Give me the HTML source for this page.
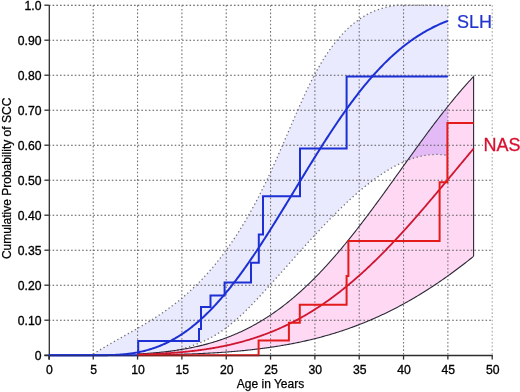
<!DOCTYPE html>
<html><head><meta charset="utf-8"><style>html,body{margin:0;padding:0;background:#fff;}svg{display:block;will-change:transform;}</style></head>
<body><svg width="520" height="392" viewBox="0 0 520 392">
<rect width="520" height="392" fill="#fff"/>
<polygon points="93.23,354.05 94.23,353.42 95.23,352.79 96.23,352.17 97.23,351.55 98.23,350.94 99.23,350.33 100.23,349.72 101.23,349.12 102.23,348.52 103.23,347.93 104.23,347.33 105.23,346.75 106.23,346.16 107.23,345.58 108.23,344.99 109.23,344.42 110.23,343.84 111.23,343.27 112.23,342.69 113.23,342.12 114.23,341.55 115.23,340.99 116.23,340.42 117.23,339.85 118.23,339.29 119.23,338.73 120.23,338.16 121.23,337.60 122.23,337.04 123.23,336.48 124.23,335.91 125.23,335.35 126.23,334.79 127.23,334.23 128.23,333.66 129.23,333.10 130.23,332.53 131.23,331.97 132.23,331.40 133.23,330.83 134.23,330.26 135.23,329.69 136.23,329.11 137.23,328.54 138.23,327.96 139.23,327.38 140.23,326.79 141.23,326.21 142.23,325.62 143.23,325.03 144.23,324.43 145.23,323.83 146.23,323.23 147.23,322.62 148.23,322.01 149.23,321.40 150.23,320.78 151.23,320.16 152.23,319.53 153.23,318.90 154.23,318.27 155.23,317.63 156.23,316.98 157.23,316.33 158.23,315.67 159.23,315.01 160.23,314.35 161.23,313.67 162.23,312.99 163.23,312.31 164.23,311.61 165.23,310.92 166.23,310.21 167.23,309.50 168.23,308.78 169.23,308.05 170.23,307.32 171.23,306.58 172.23,305.83 173.23,305.08 174.23,304.31 175.23,303.54 176.23,302.76 177.23,301.97 178.23,301.17 179.23,300.37 180.23,299.55 181.23,298.73 182.23,297.90 183.23,297.05 184.23,296.20 185.23,295.34 186.23,294.47 187.23,293.59 188.23,292.70 189.23,291.80 190.23,290.88 191.23,289.96 192.23,289.03 193.23,288.09 194.23,287.13 195.23,286.17 196.23,285.19 197.23,284.21 198.23,283.21 199.23,282.20 200.23,281.18 201.23,280.14 202.23,279.10 203.23,278.04 204.23,276.97 205.23,275.89 206.23,274.80 207.23,273.69 208.23,272.57 209.23,271.44 210.23,270.29 211.23,269.14 212.23,267.97 213.23,266.78 214.23,265.58 215.23,264.37 216.23,263.15 217.23,261.91 218.23,260.65 219.23,259.39 220.23,258.11 221.23,256.81 222.23,255.50 223.23,254.18 224.23,252.84 225.23,251.48 226.23,250.11 227.23,248.73 228.23,247.33 229.23,245.91 230.23,244.48 231.23,243.03 232.23,241.57 233.23,240.09 234.23,238.60 235.23,237.08 236.23,235.56 237.23,234.01 238.23,232.45 239.23,230.87 240.23,229.28 241.23,227.67 242.23,226.04 243.23,224.39 244.23,222.73 245.23,221.05 246.23,219.35 247.23,217.63 248.23,215.90 249.23,214.15 250.23,212.37 251.23,210.59 252.23,208.78 253.23,206.95 254.23,205.11 255.23,203.24 256.23,201.36 257.23,199.46 258.23,197.53 259.23,195.59 260.23,193.63 261.23,191.65 262.23,189.65 263.23,187.63 264.23,185.59 265.23,183.53 266.23,181.45 267.23,179.34 268.23,177.22 269.23,175.08 270.23,172.92 271.23,170.75 272.23,168.55 273.23,166.35 274.23,164.12 275.23,161.89 276.23,159.64 277.23,157.38 278.23,155.11 279.23,152.83 280.23,150.54 281.23,148.25 282.23,145.94 283.23,143.64 284.23,141.32 285.23,139.01 286.23,136.69 287.23,134.37 288.23,132.05 289.23,129.73 290.23,127.41 291.23,125.09 292.23,122.78 293.23,120.47 294.23,118.17 295.23,115.87 296.23,113.59 297.23,111.31 298.23,109.05 299.23,106.80 300.23,104.56 301.23,102.34 302.23,100.13 303.23,97.94 304.23,95.77 305.23,93.62 306.23,91.49 307.23,89.39 308.23,87.31 309.23,85.25 310.23,83.22 311.23,81.22 312.23,79.24 313.23,77.30 314.23,75.39 315.23,73.51 316.23,71.66 317.23,69.85 318.23,68.07 319.23,66.32 320.23,64.60 321.23,62.91 322.23,61.26 323.23,59.63 324.23,58.04 325.23,56.47 326.23,54.94 327.23,53.43 328.23,51.96 329.23,50.51 330.23,49.10 331.23,47.71 332.23,46.35 333.23,45.02 334.23,43.72 335.23,42.44 336.23,41.19 337.23,39.97 338.23,38.77 339.23,37.60 340.23,36.46 341.23,35.34 342.23,34.25 343.23,33.18 344.23,32.14 345.23,31.13 346.23,30.13 347.23,29.17 348.23,28.22 349.23,27.30 350.23,26.40 351.23,25.53 352.23,24.67 353.23,23.84 354.23,23.04 355.23,22.25 356.23,21.49 357.23,20.74 358.23,20.02 359.23,19.32 360.23,18.64 361.23,17.98 362.23,17.34 363.23,16.72 364.23,16.12 365.23,15.53 366.23,14.97 367.23,14.42 368.23,13.90 369.23,13.39 370.23,12.90 371.23,12.42 372.23,11.96 373.23,11.52 374.23,11.10 375.23,10.69 376.23,10.30 377.23,9.92 378.23,9.56 379.23,9.22 380.23,8.89 381.23,8.57 382.23,8.27 383.23,7.98 384.23,7.70 385.23,7.44 386.23,7.20 387.23,6.96 388.23,6.74 389.23,6.53 390.23,6.33 391.23,6.14 392.23,5.97 393.23,5.80 394.23,5.65 395.23,5.51 396.23,5.38 397.23,5.25 398.23,5.20 399.23,5.20 400.23,5.20 401.23,5.20 402.23,5.20 403.23,5.20 404.23,5.20 405.23,5.20 406.23,5.20 407.23,5.20 408.23,5.20 409.23,5.20 410.23,5.20 411.23,5.20 412.23,5.20 413.23,5.20 414.23,5.20 415.23,5.20 416.23,5.20 417.23,5.20 418.23,5.20 419.23,5.20 420.23,5.20 421.23,5.20 422.23,5.20 423.23,5.20 424.23,5.20 425.23,5.20 426.23,5.20 427.23,5.20 428.23,5.20 429.23,5.20 430.23,5.20 431.23,5.20 432.23,5.20 433.23,5.20 434.23,5.21 435.23,5.26 436.23,5.30 437.23,5.35 438.23,5.40 439.23,5.44 440.23,5.49 441.23,5.53 442.23,5.56 443.23,5.60 444.23,5.63 445.23,5.66 446.23,5.68 447.23,5.70 447.87,5.71 447.87,155.45 447.00,155.30 446.00,155.15 445.00,155.01 444.00,154.89 443.00,154.78 442.00,154.69 441.00,154.61 440.00,154.55 439.00,154.51 438.00,154.48 437.00,154.46 436.00,154.46 435.00,154.48 434.00,154.50 433.00,154.55 432.00,154.61 431.00,154.68 430.00,154.77 429.00,154.87 428.00,154.99 427.00,155.12 426.00,155.26 425.00,155.42 424.00,155.59 423.00,155.77 422.00,155.97 421.00,156.19 420.00,156.41 419.00,156.65 418.00,156.90 417.00,157.17 416.00,157.45 415.00,157.74 414.00,158.04 413.00,158.36 412.00,158.69 411.00,159.03 410.00,159.38 409.00,159.75 408.00,160.13 407.00,160.52 406.00,160.92 405.00,161.33 404.00,161.76 403.00,162.20 402.00,162.65 401.00,163.11 400.00,163.58 399.00,164.06 398.00,164.56 397.00,165.06 396.00,165.58 395.00,166.11 394.00,166.65 393.00,167.20 392.00,167.76 391.00,168.33 390.00,168.91 389.00,169.50 388.00,170.10 387.00,170.71 386.00,171.33 385.00,171.96 384.00,172.60 383.00,173.25 382.00,173.92 381.00,174.58 380.00,175.26 379.00,175.95 378.00,176.65 377.00,177.36 376.00,178.07 375.00,178.80 374.00,179.53 373.00,180.28 372.00,181.03 371.00,181.79 370.00,182.55 369.00,183.33 368.00,184.12 367.00,184.91 366.00,185.71 365.00,186.52 364.00,187.34 363.00,188.16 362.00,188.99 361.00,189.83 360.00,190.68 359.00,191.53 358.00,192.40 357.00,193.26 356.00,194.14 355.00,195.02 354.00,195.91 353.00,196.81 352.00,197.71 351.00,198.62 350.00,199.54 349.00,200.46 348.00,201.39 347.00,202.32 346.00,203.27 345.00,204.21 344.00,205.17 343.00,206.12 342.00,207.09 341.00,208.06 340.00,209.03 339.00,210.01 338.00,211.00 337.00,211.99 336.00,212.99 335.00,213.99 334.00,214.99 333.00,216.01 332.00,217.02 331.00,218.04 330.00,219.07 329.00,220.10 328.00,221.13 327.00,222.17 326.00,223.21 325.00,224.25 324.00,225.30 323.00,226.36 322.00,227.41 321.00,228.47 320.00,229.54 319.00,230.61 318.00,231.68 317.00,232.75 316.00,233.83 315.00,234.91 314.00,235.99 313.00,237.08 312.00,238.17 311.00,239.26 310.00,240.35 309.00,241.45 308.00,242.54 307.00,243.65 306.00,244.75 305.00,245.85 304.00,246.96 303.00,248.07 302.00,249.18 301.00,250.29 300.00,251.40 299.00,252.52 298.00,253.64 297.00,254.75 296.00,255.87 295.00,256.99 294.00,258.11 293.00,259.23 292.00,260.36 291.00,261.48 290.00,262.60 289.00,263.72 288.00,264.85 287.00,265.97 286.00,267.10 285.00,268.22 284.00,269.35 283.00,270.47 282.00,271.60 281.00,272.72 280.00,273.84 279.00,274.97 278.00,276.09 277.00,277.21 276.00,278.33 275.00,279.45 274.00,280.57 273.00,281.69 272.00,282.80 271.00,283.92 270.00,285.03 269.00,286.14 268.00,287.25 267.00,288.36 266.00,289.46 265.00,290.57 264.00,291.66 263.00,292.76 262.00,293.85 261.00,294.94 260.00,296.02 259.00,297.10 258.00,298.17 257.00,299.24 256.00,300.30 255.00,301.36 254.00,302.41 253.00,303.45 252.00,304.49 251.00,305.52 250.00,306.54 249.00,307.56 248.00,308.56 247.00,309.56 246.00,310.55 245.00,311.53 244.00,312.50 243.00,313.46 242.00,314.41 241.00,315.35 240.00,316.28 239.00,317.20 238.00,318.11 237.00,319.01 236.00,319.89 235.00,320.76 234.00,321.62 233.00,322.47 232.00,323.30 231.00,324.13 230.00,324.93 229.00,325.73 228.00,326.51 227.00,327.27 226.00,328.02 225.00,328.75 224.00,329.48 223.00,330.18 222.00,330.87 221.00,331.55 220.00,332.21 219.00,332.87 218.00,333.50 217.00,334.12 216.00,334.73 215.00,335.33 214.00,335.91 213.00,336.48 212.00,337.04 211.00,337.59 210.00,338.12 209.00,338.64 208.00,339.15 207.00,339.64 206.00,340.13 205.00,340.60 204.00,341.06 203.00,341.51 202.00,341.95 201.00,342.38 200.00,342.79 199.00,343.20 198.00,343.60 197.00,343.99 196.00,344.36 195.00,344.73 194.00,345.09 193.00,345.44 192.00,345.78 191.00,346.11 190.00,346.44 189.00,346.76 188.00,347.07 187.00,347.37 186.00,347.66 185.00,347.95 184.00,348.23 183.00,348.51 182.00,348.78 181.00,349.04 180.00,349.30 179.00,349.55 178.00,349.80 177.00,350.05 176.00,350.28 175.00,350.52 174.00,350.75 173.00,350.97 172.00,351.20 171.00,351.42 170.00,351.63 169.00,351.84 168.00,352.06 167.00,352.26 166.00,352.47 165.00,352.67 164.00,352.88 163.00,353.08 162.00,353.28 161.00,353.48 160.00,353.68 159.00,353.88 158.00,354.08 157.00,354.27 156.00,354.47 155.00,354.67 154.00,354.87 153.00,355.08 152.00,355.20 151.00,355.20 150.00,355.20 93.23,355.20" fill="#eaeaff"/>
<defs><clipPath id="pk"><polygon points="137.56,353.98 138.56,353.92 139.56,353.87 140.56,353.81 141.56,353.75 142.56,353.69 143.56,353.63 144.56,353.57 145.56,353.50 146.56,353.43 147.56,353.36 148.56,353.29 149.56,353.22 150.56,353.14 151.56,353.06 152.56,352.98 153.56,352.90 154.56,352.81 155.56,352.72 156.56,352.63 157.56,352.54 158.56,352.45 159.56,352.35 160.56,352.25 161.56,352.15 162.56,352.04 163.56,351.93 164.56,351.82 165.56,351.71 166.56,351.59 167.56,351.48 168.56,351.35 169.56,351.23 170.56,351.10 171.56,350.97 172.56,350.84 173.56,350.70 174.56,350.56 175.56,350.42 176.56,350.27 177.56,350.12 178.56,349.97 179.56,349.81 180.56,349.65 181.56,349.49 182.56,349.32 183.56,349.15 184.56,348.97 185.56,348.80 186.56,348.61 187.56,348.43 188.56,348.24 189.56,348.05 190.56,347.85 191.56,347.65 192.56,347.44 193.56,347.23 194.56,347.02 195.56,346.80 196.56,346.58 197.56,346.35 198.56,346.12 199.56,345.89 200.56,345.65 201.56,345.40 202.56,345.16 203.56,344.90 204.56,344.65 205.56,344.38 206.56,344.12 207.56,343.85 208.56,343.57 209.56,343.29 210.56,343.00 211.56,342.71 212.56,342.41 213.56,342.11 214.56,341.81 215.56,341.49 216.56,341.18 217.56,340.86 218.56,340.53 219.56,340.19 220.56,339.86 221.56,339.51 222.56,339.16 223.56,338.81 224.56,338.45 225.56,338.08 226.56,337.71 227.56,337.33 228.56,336.95 229.56,336.56 230.56,336.16 231.56,335.76 232.56,335.36 233.56,334.94 234.56,334.52 235.56,334.10 236.56,333.67 237.56,333.23 238.56,332.78 239.56,332.33 240.56,331.88 241.56,331.41 242.56,330.94 243.56,330.47 244.56,329.99 245.56,329.50 246.56,329.00 247.56,328.50 248.56,327.99 249.56,327.47 250.56,326.95 251.56,326.42 252.56,325.88 253.56,325.34 254.56,324.79 255.56,324.23 256.56,323.67 257.56,323.10 258.56,322.52 259.56,321.93 260.56,321.34 261.56,320.74 262.56,320.13 263.56,319.52 264.56,318.90 265.56,318.27 266.56,317.63 267.56,316.99 268.56,316.34 269.56,315.68 270.56,315.02 271.56,314.34 272.56,313.66 273.56,312.97 274.56,312.28 275.56,311.57 276.56,310.86 277.56,310.15 278.56,309.42 279.56,308.69 280.56,307.94 281.56,307.20 282.56,306.44 283.56,305.68 284.56,304.90 285.56,304.12 286.56,303.34 287.56,302.54 288.56,301.74 289.56,300.93 290.56,300.11 291.56,299.28 292.56,298.45 293.56,297.61 294.56,296.76 295.56,295.90 296.56,295.04 297.56,294.16 298.56,293.28 299.56,292.40 300.56,291.50 301.56,290.60 302.56,289.68 303.56,288.76 304.56,287.84 305.56,286.90 306.56,285.96 307.56,285.01 308.56,284.05 309.56,283.09 310.56,282.12 311.56,281.14 312.56,280.15 313.56,279.15 314.56,278.15 315.56,277.14 316.56,276.12 317.56,275.09 318.56,274.06 319.56,273.02 320.56,271.97 321.56,270.92 322.56,269.86 323.56,268.79 324.56,267.71 325.56,266.63 326.56,265.54 327.56,264.44 328.56,263.33 329.56,262.22 330.56,261.10 331.56,259.98 332.56,258.84 333.56,257.70 334.56,256.56 335.56,255.40 336.56,254.25 337.56,253.08 338.56,251.91 339.56,250.73 340.56,249.54 341.56,248.35 342.56,247.15 343.56,245.95 344.56,244.74 345.56,243.52 346.56,242.30 347.56,241.07 348.56,239.84 349.56,238.60 350.56,237.36 351.56,236.11 352.56,234.85 353.56,233.59 354.56,232.32 355.56,231.05 356.56,229.77 357.56,228.49 358.56,227.20 359.56,225.91 360.56,224.61 361.56,223.31 362.56,222.01 363.56,220.70 364.56,219.38 365.56,218.06 366.56,216.74 367.56,215.41 368.56,214.08 369.56,212.74 370.56,211.41 371.56,210.06 372.56,208.72 373.56,207.37 374.56,206.01 375.56,204.66 376.56,203.30 377.56,201.94 378.56,200.57 379.56,199.20 380.56,197.83 381.56,196.46 382.56,195.08 383.56,193.71 384.56,192.33 385.56,190.94 386.56,189.56 387.56,188.17 388.56,186.79 389.56,185.40 390.56,184.01 391.56,182.62 392.56,181.22 393.56,179.83 394.56,178.44 395.56,177.04 396.56,175.64 397.56,174.25 398.56,172.85 399.56,171.45 400.56,170.06 401.56,168.66 402.56,167.26 403.56,165.87 404.56,164.47 405.56,163.08 406.56,161.68 407.56,160.29 408.56,158.89 409.56,157.50 410.56,156.11 411.56,154.72 412.56,153.33 413.56,151.95 414.56,150.56 415.56,149.18 416.56,147.80 417.56,146.42 418.56,145.04 419.56,143.67 420.56,142.30 421.56,140.93 422.56,139.57 423.56,138.20 424.56,136.85 425.56,135.49 426.56,134.14 427.56,132.79 428.56,131.44 429.56,130.10 430.56,128.76 431.56,127.43 432.56,126.10 433.56,124.77 434.56,123.45 435.56,122.14 436.56,120.82 437.56,119.52 438.56,118.22 439.56,116.92 440.56,115.63 441.56,114.34 442.56,113.06 443.56,111.78 444.56,110.51 445.56,109.25 446.56,107.99 447.56,106.74 448.56,105.49 449.56,104.25 450.56,103.02 451.56,101.79 452.56,100.57 453.56,99.35 454.56,98.14 455.56,96.94 456.56,95.75 457.56,94.56 458.56,93.38 459.56,92.21 460.56,91.04 461.56,89.88 462.56,88.73 463.56,87.59 464.56,86.45 465.56,85.32 466.56,84.20 467.56,83.09 468.56,81.98 469.56,80.88 470.56,79.80 471.56,78.71 472.56,77.64 473.56,76.58 473.60,76.53 473.60,256.32 473.60,256.32 473.56,256.35 472.56,257.16 471.56,257.96 470.56,258.75 469.56,259.55 468.56,260.34 467.56,261.12 466.56,261.91 465.56,262.69 464.56,263.46 463.56,264.24 462.56,265.00 461.56,265.77 460.56,266.53 459.56,267.29 458.56,268.05 457.56,268.80 456.56,269.55 455.56,270.29 454.56,271.03 453.56,271.77 452.56,272.51 451.56,273.24 450.56,273.96 449.56,274.69 448.56,275.41 447.56,276.12 446.56,276.84 445.56,277.54 444.56,278.25 443.56,278.95 442.56,279.65 441.56,280.34 440.56,281.03 439.56,281.72 438.56,282.40 437.56,283.08 436.56,283.76 435.56,284.43 434.56,285.10 433.56,285.76 432.56,286.42 431.56,287.08 430.56,287.73 429.56,288.38 428.56,289.02 427.56,289.67 426.56,290.30 425.56,290.94 424.56,291.57 423.56,292.19 422.56,292.82 421.56,293.44 420.56,294.05 419.56,294.66 418.56,295.27 417.56,295.87 416.56,296.47 415.56,297.07 414.56,297.66 413.56,298.25 412.56,298.83 411.56,299.41 410.56,299.99 409.56,300.56 408.56,301.13 407.56,301.70 406.56,302.26 405.56,302.82 404.56,303.37 403.56,303.92 402.56,304.47 401.56,305.01 400.56,305.55 399.56,306.08 398.56,306.62 397.56,307.14 396.56,307.67 395.56,308.19 394.56,308.70 393.56,309.22 392.56,309.73 391.56,310.23 390.56,310.73 389.56,311.23 388.56,311.72 387.56,312.21 386.56,312.70 385.56,313.18 384.56,313.66 383.56,314.14 382.56,314.61 381.56,315.08 380.56,315.54 379.56,316.01 378.56,316.46 377.56,316.92 376.56,317.37 375.56,317.81 374.56,318.26 373.56,318.70 372.56,319.13 371.56,319.56 370.56,319.99 369.56,320.42 368.56,320.84 367.56,321.26 366.56,321.67 365.56,322.08 364.56,322.49 363.56,322.90 362.56,323.30 361.56,323.69 360.56,324.09 359.56,324.48 358.56,324.87 357.56,325.25 356.56,325.63 355.56,326.01 354.56,326.38 353.56,326.75 352.56,327.12 351.56,327.48 350.56,327.84 349.56,328.20 348.56,328.55 347.56,328.90 346.56,329.25 345.56,329.59 344.56,329.93 343.56,330.27 342.56,330.61 341.56,330.94 340.56,331.26 339.56,331.59 338.56,331.91 337.56,332.23 336.56,332.54 335.56,332.86 334.56,333.17 333.56,333.47 332.56,333.78 331.56,334.08 330.56,334.37 329.56,334.67 328.56,334.96 327.56,335.25 326.56,335.53 325.56,335.81 324.56,336.09 323.56,336.37 322.56,336.64 321.56,336.91 320.56,337.18 319.56,337.45 318.56,337.71 317.56,337.97 316.56,338.23 315.56,338.48 314.56,338.73 313.56,338.98 312.56,339.23 311.56,339.47 310.56,339.71 309.56,339.95 308.56,340.18 307.56,340.41 306.56,340.64 305.56,340.87 304.56,341.10 303.56,341.32 302.56,341.54 301.56,341.75 300.56,341.97 299.56,342.18 298.56,342.39 297.56,342.60 296.56,342.80 295.56,343.00 294.56,343.20 293.56,343.40 292.56,343.59 291.56,343.79 290.56,343.98 289.56,344.16 288.56,344.35 287.56,344.53 286.56,344.71 285.56,344.89 284.56,345.07 283.56,345.24 282.56,345.41 281.56,345.58 280.56,345.75 279.56,345.92 278.56,346.08 277.56,346.24 276.56,346.40 275.56,346.56 274.56,346.71 273.56,346.87 272.56,347.02 271.56,347.16 270.56,347.31 269.56,347.46 268.56,347.60 267.56,347.74 266.56,347.88 265.56,348.02 264.56,348.15 263.56,348.28 262.56,348.42 261.56,348.54 260.56,348.67 259.56,348.80 258.56,348.92 257.56,349.04 256.56,349.16 255.56,349.28 254.56,349.40 253.56,349.52 252.56,349.63 251.56,349.74 250.56,349.85 249.56,349.96 248.56,350.07 247.56,350.17 246.56,350.27 245.56,350.38 244.56,350.48 243.56,350.58 242.56,350.67 241.56,350.77 240.56,350.86 239.56,350.96 238.56,351.05 237.56,351.14 236.56,351.22 235.56,351.31 234.56,351.40 233.56,351.48 232.56,351.56 231.56,351.65 230.56,351.73 229.56,351.80 228.56,351.88 227.56,351.96 226.56,352.03 225.56,352.10 224.56,352.18 223.56,352.25 222.56,352.32 221.56,352.39 220.56,352.45 219.56,352.52 218.56,352.58 217.56,352.65 216.56,352.71 215.56,352.77 214.56,352.83 213.56,352.89 212.56,352.95 211.56,353.00 210.56,353.06 209.56,353.11 208.56,353.17 207.56,353.22 206.56,353.27 205.56,353.32 204.56,353.37 203.56,353.42 202.56,353.47 201.56,353.51 200.56,353.56 199.56,353.60 198.56,353.65 197.56,353.69 196.56,353.73 195.56,353.77 194.56,353.81 193.56,353.85 192.56,353.89 191.56,353.93 190.56,353.97 189.56,354.00 188.56,354.04 187.56,354.07 186.56,354.11 185.56,354.14 184.56,354.17 183.56,354.20 182.56,354.23 181.56,354.26 180.56,354.29 179.56,354.32 178.56,354.35 177.56,354.38 176.56,354.40 175.56,354.43 174.56,354.45 173.56,354.48 172.56,354.50 171.56,354.53 170.56,354.55 169.56,354.57 168.56,354.59 167.56,354.61 166.56,354.63 165.56,354.65 164.56,354.67 163.56,354.69 162.56,354.71 161.56,354.73 160.56,354.75 159.56,354.76 158.56,354.78 157.56,354.80 156.56,354.81 155.56,354.83 154.56,354.84 153.56,354.86 152.56,354.87 151.56,354.88 150.56,354.90 149.56,354.91 148.56,354.92 147.56,354.93 146.56,354.94 145.56,354.95 144.56,354.96 143.56,354.97 142.56,354.98 141.56,354.99 140.56,355.00 139.56,355.01 138.56,355.02 137.56,355.03"/></clipPath></defs>
<polygon points="137.56,353.98 138.56,353.92 139.56,353.87 140.56,353.81 141.56,353.75 142.56,353.69 143.56,353.63 144.56,353.57 145.56,353.50 146.56,353.43 147.56,353.36 148.56,353.29 149.56,353.22 150.56,353.14 151.56,353.06 152.56,352.98 153.56,352.90 154.56,352.81 155.56,352.72 156.56,352.63 157.56,352.54 158.56,352.45 159.56,352.35 160.56,352.25 161.56,352.15 162.56,352.04 163.56,351.93 164.56,351.82 165.56,351.71 166.56,351.59 167.56,351.48 168.56,351.35 169.56,351.23 170.56,351.10 171.56,350.97 172.56,350.84 173.56,350.70 174.56,350.56 175.56,350.42 176.56,350.27 177.56,350.12 178.56,349.97 179.56,349.81 180.56,349.65 181.56,349.49 182.56,349.32 183.56,349.15 184.56,348.97 185.56,348.80 186.56,348.61 187.56,348.43 188.56,348.24 189.56,348.05 190.56,347.85 191.56,347.65 192.56,347.44 193.56,347.23 194.56,347.02 195.56,346.80 196.56,346.58 197.56,346.35 198.56,346.12 199.56,345.89 200.56,345.65 201.56,345.40 202.56,345.16 203.56,344.90 204.56,344.65 205.56,344.38 206.56,344.12 207.56,343.85 208.56,343.57 209.56,343.29 210.56,343.00 211.56,342.71 212.56,342.41 213.56,342.11 214.56,341.81 215.56,341.49 216.56,341.18 217.56,340.86 218.56,340.53 219.56,340.19 220.56,339.86 221.56,339.51 222.56,339.16 223.56,338.81 224.56,338.45 225.56,338.08 226.56,337.71 227.56,337.33 228.56,336.95 229.56,336.56 230.56,336.16 231.56,335.76 232.56,335.36 233.56,334.94 234.56,334.52 235.56,334.10 236.56,333.67 237.56,333.23 238.56,332.78 239.56,332.33 240.56,331.88 241.56,331.41 242.56,330.94 243.56,330.47 244.56,329.99 245.56,329.50 246.56,329.00 247.56,328.50 248.56,327.99 249.56,327.47 250.56,326.95 251.56,326.42 252.56,325.88 253.56,325.34 254.56,324.79 255.56,324.23 256.56,323.67 257.56,323.10 258.56,322.52 259.56,321.93 260.56,321.34 261.56,320.74 262.56,320.13 263.56,319.52 264.56,318.90 265.56,318.27 266.56,317.63 267.56,316.99 268.56,316.34 269.56,315.68 270.56,315.02 271.56,314.34 272.56,313.66 273.56,312.97 274.56,312.28 275.56,311.57 276.56,310.86 277.56,310.15 278.56,309.42 279.56,308.69 280.56,307.94 281.56,307.20 282.56,306.44 283.56,305.68 284.56,304.90 285.56,304.12 286.56,303.34 287.56,302.54 288.56,301.74 289.56,300.93 290.56,300.11 291.56,299.28 292.56,298.45 293.56,297.61 294.56,296.76 295.56,295.90 296.56,295.04 297.56,294.16 298.56,293.28 299.56,292.40 300.56,291.50 301.56,290.60 302.56,289.68 303.56,288.76 304.56,287.84 305.56,286.90 306.56,285.96 307.56,285.01 308.56,284.05 309.56,283.09 310.56,282.12 311.56,281.14 312.56,280.15 313.56,279.15 314.56,278.15 315.56,277.14 316.56,276.12 317.56,275.09 318.56,274.06 319.56,273.02 320.56,271.97 321.56,270.92 322.56,269.86 323.56,268.79 324.56,267.71 325.56,266.63 326.56,265.54 327.56,264.44 328.56,263.33 329.56,262.22 330.56,261.10 331.56,259.98 332.56,258.84 333.56,257.70 334.56,256.56 335.56,255.40 336.56,254.25 337.56,253.08 338.56,251.91 339.56,250.73 340.56,249.54 341.56,248.35 342.56,247.15 343.56,245.95 344.56,244.74 345.56,243.52 346.56,242.30 347.56,241.07 348.56,239.84 349.56,238.60 350.56,237.36 351.56,236.11 352.56,234.85 353.56,233.59 354.56,232.32 355.56,231.05 356.56,229.77 357.56,228.49 358.56,227.20 359.56,225.91 360.56,224.61 361.56,223.31 362.56,222.01 363.56,220.70 364.56,219.38 365.56,218.06 366.56,216.74 367.56,215.41 368.56,214.08 369.56,212.74 370.56,211.41 371.56,210.06 372.56,208.72 373.56,207.37 374.56,206.01 375.56,204.66 376.56,203.30 377.56,201.94 378.56,200.57 379.56,199.20 380.56,197.83 381.56,196.46 382.56,195.08 383.56,193.71 384.56,192.33 385.56,190.94 386.56,189.56 387.56,188.17 388.56,186.79 389.56,185.40 390.56,184.01 391.56,182.62 392.56,181.22 393.56,179.83 394.56,178.44 395.56,177.04 396.56,175.64 397.56,174.25 398.56,172.85 399.56,171.45 400.56,170.06 401.56,168.66 402.56,167.26 403.56,165.87 404.56,164.47 405.56,163.08 406.56,161.68 407.56,160.29 408.56,158.89 409.56,157.50 410.56,156.11 411.56,154.72 412.56,153.33 413.56,151.95 414.56,150.56 415.56,149.18 416.56,147.80 417.56,146.42 418.56,145.04 419.56,143.67 420.56,142.30 421.56,140.93 422.56,139.57 423.56,138.20 424.56,136.85 425.56,135.49 426.56,134.14 427.56,132.79 428.56,131.44 429.56,130.10 430.56,128.76 431.56,127.43 432.56,126.10 433.56,124.77 434.56,123.45 435.56,122.14 436.56,120.82 437.56,119.52 438.56,118.22 439.56,116.92 440.56,115.63 441.56,114.34 442.56,113.06 443.56,111.78 444.56,110.51 445.56,109.25 446.56,107.99 447.56,106.74 448.56,105.49 449.56,104.25 450.56,103.02 451.56,101.79 452.56,100.57 453.56,99.35 454.56,98.14 455.56,96.94 456.56,95.75 457.56,94.56 458.56,93.38 459.56,92.21 460.56,91.04 461.56,89.88 462.56,88.73 463.56,87.59 464.56,86.45 465.56,85.32 466.56,84.20 467.56,83.09 468.56,81.98 469.56,80.88 470.56,79.80 471.56,78.71 472.56,77.64 473.56,76.58 473.60,76.53 473.60,256.32 473.60,256.32 473.56,256.35 472.56,257.16 471.56,257.96 470.56,258.75 469.56,259.55 468.56,260.34 467.56,261.12 466.56,261.91 465.56,262.69 464.56,263.46 463.56,264.24 462.56,265.00 461.56,265.77 460.56,266.53 459.56,267.29 458.56,268.05 457.56,268.80 456.56,269.55 455.56,270.29 454.56,271.03 453.56,271.77 452.56,272.51 451.56,273.24 450.56,273.96 449.56,274.69 448.56,275.41 447.56,276.12 446.56,276.84 445.56,277.54 444.56,278.25 443.56,278.95 442.56,279.65 441.56,280.34 440.56,281.03 439.56,281.72 438.56,282.40 437.56,283.08 436.56,283.76 435.56,284.43 434.56,285.10 433.56,285.76 432.56,286.42 431.56,287.08 430.56,287.73 429.56,288.38 428.56,289.02 427.56,289.67 426.56,290.30 425.56,290.94 424.56,291.57 423.56,292.19 422.56,292.82 421.56,293.44 420.56,294.05 419.56,294.66 418.56,295.27 417.56,295.87 416.56,296.47 415.56,297.07 414.56,297.66 413.56,298.25 412.56,298.83 411.56,299.41 410.56,299.99 409.56,300.56 408.56,301.13 407.56,301.70 406.56,302.26 405.56,302.82 404.56,303.37 403.56,303.92 402.56,304.47 401.56,305.01 400.56,305.55 399.56,306.08 398.56,306.62 397.56,307.14 396.56,307.67 395.56,308.19 394.56,308.70 393.56,309.22 392.56,309.73 391.56,310.23 390.56,310.73 389.56,311.23 388.56,311.72 387.56,312.21 386.56,312.70 385.56,313.18 384.56,313.66 383.56,314.14 382.56,314.61 381.56,315.08 380.56,315.54 379.56,316.01 378.56,316.46 377.56,316.92 376.56,317.37 375.56,317.81 374.56,318.26 373.56,318.70 372.56,319.13 371.56,319.56 370.56,319.99 369.56,320.42 368.56,320.84 367.56,321.26 366.56,321.67 365.56,322.08 364.56,322.49 363.56,322.90 362.56,323.30 361.56,323.69 360.56,324.09 359.56,324.48 358.56,324.87 357.56,325.25 356.56,325.63 355.56,326.01 354.56,326.38 353.56,326.75 352.56,327.12 351.56,327.48 350.56,327.84 349.56,328.20 348.56,328.55 347.56,328.90 346.56,329.25 345.56,329.59 344.56,329.93 343.56,330.27 342.56,330.61 341.56,330.94 340.56,331.26 339.56,331.59 338.56,331.91 337.56,332.23 336.56,332.54 335.56,332.86 334.56,333.17 333.56,333.47 332.56,333.78 331.56,334.08 330.56,334.37 329.56,334.67 328.56,334.96 327.56,335.25 326.56,335.53 325.56,335.81 324.56,336.09 323.56,336.37 322.56,336.64 321.56,336.91 320.56,337.18 319.56,337.45 318.56,337.71 317.56,337.97 316.56,338.23 315.56,338.48 314.56,338.73 313.56,338.98 312.56,339.23 311.56,339.47 310.56,339.71 309.56,339.95 308.56,340.18 307.56,340.41 306.56,340.64 305.56,340.87 304.56,341.10 303.56,341.32 302.56,341.54 301.56,341.75 300.56,341.97 299.56,342.18 298.56,342.39 297.56,342.60 296.56,342.80 295.56,343.00 294.56,343.20 293.56,343.40 292.56,343.59 291.56,343.79 290.56,343.98 289.56,344.16 288.56,344.35 287.56,344.53 286.56,344.71 285.56,344.89 284.56,345.07 283.56,345.24 282.56,345.41 281.56,345.58 280.56,345.75 279.56,345.92 278.56,346.08 277.56,346.24 276.56,346.40 275.56,346.56 274.56,346.71 273.56,346.87 272.56,347.02 271.56,347.16 270.56,347.31 269.56,347.46 268.56,347.60 267.56,347.74 266.56,347.88 265.56,348.02 264.56,348.15 263.56,348.28 262.56,348.42 261.56,348.54 260.56,348.67 259.56,348.80 258.56,348.92 257.56,349.04 256.56,349.16 255.56,349.28 254.56,349.40 253.56,349.52 252.56,349.63 251.56,349.74 250.56,349.85 249.56,349.96 248.56,350.07 247.56,350.17 246.56,350.27 245.56,350.38 244.56,350.48 243.56,350.58 242.56,350.67 241.56,350.77 240.56,350.86 239.56,350.96 238.56,351.05 237.56,351.14 236.56,351.22 235.56,351.31 234.56,351.40 233.56,351.48 232.56,351.56 231.56,351.65 230.56,351.73 229.56,351.80 228.56,351.88 227.56,351.96 226.56,352.03 225.56,352.10 224.56,352.18 223.56,352.25 222.56,352.32 221.56,352.39 220.56,352.45 219.56,352.52 218.56,352.58 217.56,352.65 216.56,352.71 215.56,352.77 214.56,352.83 213.56,352.89 212.56,352.95 211.56,353.00 210.56,353.06 209.56,353.11 208.56,353.17 207.56,353.22 206.56,353.27 205.56,353.32 204.56,353.37 203.56,353.42 202.56,353.47 201.56,353.51 200.56,353.56 199.56,353.60 198.56,353.65 197.56,353.69 196.56,353.73 195.56,353.77 194.56,353.81 193.56,353.85 192.56,353.89 191.56,353.93 190.56,353.97 189.56,354.00 188.56,354.04 187.56,354.07 186.56,354.11 185.56,354.14 184.56,354.17 183.56,354.20 182.56,354.23 181.56,354.26 180.56,354.29 179.56,354.32 178.56,354.35 177.56,354.38 176.56,354.40 175.56,354.43 174.56,354.45 173.56,354.48 172.56,354.50 171.56,354.53 170.56,354.55 169.56,354.57 168.56,354.59 167.56,354.61 166.56,354.63 165.56,354.65 164.56,354.67 163.56,354.69 162.56,354.71 161.56,354.73 160.56,354.75 159.56,354.76 158.56,354.78 157.56,354.80 156.56,354.81 155.56,354.83 154.56,354.84 153.56,354.86 152.56,354.87 151.56,354.88 150.56,354.90 149.56,354.91 148.56,354.92 147.56,354.93 146.56,354.94 145.56,354.95 144.56,354.96 143.56,354.97 142.56,354.98 141.56,354.99 140.56,355.00 139.56,355.01 138.56,355.02 137.56,355.03" fill="#ffd9f4"/>
<polygon points="93.23,354.05 94.23,353.42 95.23,352.79 96.23,352.17 97.23,351.55 98.23,350.94 99.23,350.33 100.23,349.72 101.23,349.12 102.23,348.52 103.23,347.93 104.23,347.33 105.23,346.75 106.23,346.16 107.23,345.58 108.23,344.99 109.23,344.42 110.23,343.84 111.23,343.27 112.23,342.69 113.23,342.12 114.23,341.55 115.23,340.99 116.23,340.42 117.23,339.85 118.23,339.29 119.23,338.73 120.23,338.16 121.23,337.60 122.23,337.04 123.23,336.48 124.23,335.91 125.23,335.35 126.23,334.79 127.23,334.23 128.23,333.66 129.23,333.10 130.23,332.53 131.23,331.97 132.23,331.40 133.23,330.83 134.23,330.26 135.23,329.69 136.23,329.11 137.23,328.54 138.23,327.96 139.23,327.38 140.23,326.79 141.23,326.21 142.23,325.62 143.23,325.03 144.23,324.43 145.23,323.83 146.23,323.23 147.23,322.62 148.23,322.01 149.23,321.40 150.23,320.78 151.23,320.16 152.23,319.53 153.23,318.90 154.23,318.27 155.23,317.63 156.23,316.98 157.23,316.33 158.23,315.67 159.23,315.01 160.23,314.35 161.23,313.67 162.23,312.99 163.23,312.31 164.23,311.61 165.23,310.92 166.23,310.21 167.23,309.50 168.23,308.78 169.23,308.05 170.23,307.32 171.23,306.58 172.23,305.83 173.23,305.08 174.23,304.31 175.23,303.54 176.23,302.76 177.23,301.97 178.23,301.17 179.23,300.37 180.23,299.55 181.23,298.73 182.23,297.90 183.23,297.05 184.23,296.20 185.23,295.34 186.23,294.47 187.23,293.59 188.23,292.70 189.23,291.80 190.23,290.88 191.23,289.96 192.23,289.03 193.23,288.09 194.23,287.13 195.23,286.17 196.23,285.19 197.23,284.21 198.23,283.21 199.23,282.20 200.23,281.18 201.23,280.14 202.23,279.10 203.23,278.04 204.23,276.97 205.23,275.89 206.23,274.80 207.23,273.69 208.23,272.57 209.23,271.44 210.23,270.29 211.23,269.14 212.23,267.97 213.23,266.78 214.23,265.58 215.23,264.37 216.23,263.15 217.23,261.91 218.23,260.65 219.23,259.39 220.23,258.11 221.23,256.81 222.23,255.50 223.23,254.18 224.23,252.84 225.23,251.48 226.23,250.11 227.23,248.73 228.23,247.33 229.23,245.91 230.23,244.48 231.23,243.03 232.23,241.57 233.23,240.09 234.23,238.60 235.23,237.08 236.23,235.56 237.23,234.01 238.23,232.45 239.23,230.87 240.23,229.28 241.23,227.67 242.23,226.04 243.23,224.39 244.23,222.73 245.23,221.05 246.23,219.35 247.23,217.63 248.23,215.90 249.23,214.15 250.23,212.37 251.23,210.59 252.23,208.78 253.23,206.95 254.23,205.11 255.23,203.24 256.23,201.36 257.23,199.46 258.23,197.53 259.23,195.59 260.23,193.63 261.23,191.65 262.23,189.65 263.23,187.63 264.23,185.59 265.23,183.53 266.23,181.45 267.23,179.34 268.23,177.22 269.23,175.08 270.23,172.92 271.23,170.75 272.23,168.55 273.23,166.35 274.23,164.12 275.23,161.89 276.23,159.64 277.23,157.38 278.23,155.11 279.23,152.83 280.23,150.54 281.23,148.25 282.23,145.94 283.23,143.64 284.23,141.32 285.23,139.01 286.23,136.69 287.23,134.37 288.23,132.05 289.23,129.73 290.23,127.41 291.23,125.09 292.23,122.78 293.23,120.47 294.23,118.17 295.23,115.87 296.23,113.59 297.23,111.31 298.23,109.05 299.23,106.80 300.23,104.56 301.23,102.34 302.23,100.13 303.23,97.94 304.23,95.77 305.23,93.62 306.23,91.49 307.23,89.39 308.23,87.31 309.23,85.25 310.23,83.22 311.23,81.22 312.23,79.24 313.23,77.30 314.23,75.39 315.23,73.51 316.23,71.66 317.23,69.85 318.23,68.07 319.23,66.32 320.23,64.60 321.23,62.91 322.23,61.26 323.23,59.63 324.23,58.04 325.23,56.47 326.23,54.94 327.23,53.43 328.23,51.96 329.23,50.51 330.23,49.10 331.23,47.71 332.23,46.35 333.23,45.02 334.23,43.72 335.23,42.44 336.23,41.19 337.23,39.97 338.23,38.77 339.23,37.60 340.23,36.46 341.23,35.34 342.23,34.25 343.23,33.18 344.23,32.14 345.23,31.13 346.23,30.13 347.23,29.17 348.23,28.22 349.23,27.30 350.23,26.40 351.23,25.53 352.23,24.67 353.23,23.84 354.23,23.04 355.23,22.25 356.23,21.49 357.23,20.74 358.23,20.02 359.23,19.32 360.23,18.64 361.23,17.98 362.23,17.34 363.23,16.72 364.23,16.12 365.23,15.53 366.23,14.97 367.23,14.42 368.23,13.90 369.23,13.39 370.23,12.90 371.23,12.42 372.23,11.96 373.23,11.52 374.23,11.10 375.23,10.69 376.23,10.30 377.23,9.92 378.23,9.56 379.23,9.22 380.23,8.89 381.23,8.57 382.23,8.27 383.23,7.98 384.23,7.70 385.23,7.44 386.23,7.20 387.23,6.96 388.23,6.74 389.23,6.53 390.23,6.33 391.23,6.14 392.23,5.97 393.23,5.80 394.23,5.65 395.23,5.51 396.23,5.38 397.23,5.25 398.23,5.20 399.23,5.20 400.23,5.20 401.23,5.20 402.23,5.20 403.23,5.20 404.23,5.20 405.23,5.20 406.23,5.20 407.23,5.20 408.23,5.20 409.23,5.20 410.23,5.20 411.23,5.20 412.23,5.20 413.23,5.20 414.23,5.20 415.23,5.20 416.23,5.20 417.23,5.20 418.23,5.20 419.23,5.20 420.23,5.20 421.23,5.20 422.23,5.20 423.23,5.20 424.23,5.20 425.23,5.20 426.23,5.20 427.23,5.20 428.23,5.20 429.23,5.20 430.23,5.20 431.23,5.20 432.23,5.20 433.23,5.20 434.23,5.21 435.23,5.26 436.23,5.30 437.23,5.35 438.23,5.40 439.23,5.44 440.23,5.49 441.23,5.53 442.23,5.56 443.23,5.60 444.23,5.63 445.23,5.66 446.23,5.68 447.23,5.70 447.87,5.71 447.87,155.45 447.00,155.30 446.00,155.15 445.00,155.01 444.00,154.89 443.00,154.78 442.00,154.69 441.00,154.61 440.00,154.55 439.00,154.51 438.00,154.48 437.00,154.46 436.00,154.46 435.00,154.48 434.00,154.50 433.00,154.55 432.00,154.61 431.00,154.68 430.00,154.77 429.00,154.87 428.00,154.99 427.00,155.12 426.00,155.26 425.00,155.42 424.00,155.59 423.00,155.77 422.00,155.97 421.00,156.19 420.00,156.41 419.00,156.65 418.00,156.90 417.00,157.17 416.00,157.45 415.00,157.74 414.00,158.04 413.00,158.36 412.00,158.69 411.00,159.03 410.00,159.38 409.00,159.75 408.00,160.13 407.00,160.52 406.00,160.92 405.00,161.33 404.00,161.76 403.00,162.20 402.00,162.65 401.00,163.11 400.00,163.58 399.00,164.06 398.00,164.56 397.00,165.06 396.00,165.58 395.00,166.11 394.00,166.65 393.00,167.20 392.00,167.76 391.00,168.33 390.00,168.91 389.00,169.50 388.00,170.10 387.00,170.71 386.00,171.33 385.00,171.96 384.00,172.60 383.00,173.25 382.00,173.92 381.00,174.58 380.00,175.26 379.00,175.95 378.00,176.65 377.00,177.36 376.00,178.07 375.00,178.80 374.00,179.53 373.00,180.28 372.00,181.03 371.00,181.79 370.00,182.55 369.00,183.33 368.00,184.12 367.00,184.91 366.00,185.71 365.00,186.52 364.00,187.34 363.00,188.16 362.00,188.99 361.00,189.83 360.00,190.68 359.00,191.53 358.00,192.40 357.00,193.26 356.00,194.14 355.00,195.02 354.00,195.91 353.00,196.81 352.00,197.71 351.00,198.62 350.00,199.54 349.00,200.46 348.00,201.39 347.00,202.32 346.00,203.27 345.00,204.21 344.00,205.17 343.00,206.12 342.00,207.09 341.00,208.06 340.00,209.03 339.00,210.01 338.00,211.00 337.00,211.99 336.00,212.99 335.00,213.99 334.00,214.99 333.00,216.01 332.00,217.02 331.00,218.04 330.00,219.07 329.00,220.10 328.00,221.13 327.00,222.17 326.00,223.21 325.00,224.25 324.00,225.30 323.00,226.36 322.00,227.41 321.00,228.47 320.00,229.54 319.00,230.61 318.00,231.68 317.00,232.75 316.00,233.83 315.00,234.91 314.00,235.99 313.00,237.08 312.00,238.17 311.00,239.26 310.00,240.35 309.00,241.45 308.00,242.54 307.00,243.65 306.00,244.75 305.00,245.85 304.00,246.96 303.00,248.07 302.00,249.18 301.00,250.29 300.00,251.40 299.00,252.52 298.00,253.64 297.00,254.75 296.00,255.87 295.00,256.99 294.00,258.11 293.00,259.23 292.00,260.36 291.00,261.48 290.00,262.60 289.00,263.72 288.00,264.85 287.00,265.97 286.00,267.10 285.00,268.22 284.00,269.35 283.00,270.47 282.00,271.60 281.00,272.72 280.00,273.84 279.00,274.97 278.00,276.09 277.00,277.21 276.00,278.33 275.00,279.45 274.00,280.57 273.00,281.69 272.00,282.80 271.00,283.92 270.00,285.03 269.00,286.14 268.00,287.25 267.00,288.36 266.00,289.46 265.00,290.57 264.00,291.66 263.00,292.76 262.00,293.85 261.00,294.94 260.00,296.02 259.00,297.10 258.00,298.17 257.00,299.24 256.00,300.30 255.00,301.36 254.00,302.41 253.00,303.45 252.00,304.49 251.00,305.52 250.00,306.54 249.00,307.56 248.00,308.56 247.00,309.56 246.00,310.55 245.00,311.53 244.00,312.50 243.00,313.46 242.00,314.41 241.00,315.35 240.00,316.28 239.00,317.20 238.00,318.11 237.00,319.01 236.00,319.89 235.00,320.76 234.00,321.62 233.00,322.47 232.00,323.30 231.00,324.13 230.00,324.93 229.00,325.73 228.00,326.51 227.00,327.27 226.00,328.02 225.00,328.75 224.00,329.48 223.00,330.18 222.00,330.87 221.00,331.55 220.00,332.21 219.00,332.87 218.00,333.50 217.00,334.12 216.00,334.73 215.00,335.33 214.00,335.91 213.00,336.48 212.00,337.04 211.00,337.59 210.00,338.12 209.00,338.64 208.00,339.15 207.00,339.64 206.00,340.13 205.00,340.60 204.00,341.06 203.00,341.51 202.00,341.95 201.00,342.38 200.00,342.79 199.00,343.20 198.00,343.60 197.00,343.99 196.00,344.36 195.00,344.73 194.00,345.09 193.00,345.44 192.00,345.78 191.00,346.11 190.00,346.44 189.00,346.76 188.00,347.07 187.00,347.37 186.00,347.66 185.00,347.95 184.00,348.23 183.00,348.51 182.00,348.78 181.00,349.04 180.00,349.30 179.00,349.55 178.00,349.80 177.00,350.05 176.00,350.28 175.00,350.52 174.00,350.75 173.00,350.97 172.00,351.20 171.00,351.42 170.00,351.63 169.00,351.84 168.00,352.06 167.00,352.26 166.00,352.47 165.00,352.67 164.00,352.88 163.00,353.08 162.00,353.28 161.00,353.48 160.00,353.68 159.00,353.88 158.00,354.08 157.00,354.27 156.00,354.47 155.00,354.67 154.00,354.87 153.00,355.08 152.00,355.20 151.00,355.20 150.00,355.20 93.23,355.20" fill="#e4baf6" clip-path="url(#pk)"/>
<g stroke="#5a5a5a" stroke-width="1.1" stroke-dasharray="1.6 2.1" fill="none">
<line x1="93.23" y1="5.2" x2="93.23" y2="355.2" stroke="#767676"/><line x1="137.56" y1="5.2" x2="137.56" y2="355.2" stroke="#767676"/><line x1="181.89" y1="5.2" x2="181.89" y2="355.2" stroke="#767676"/><line x1="226.22" y1="5.2" x2="226.22" y2="355.2" stroke="#767676"/><line x1="270.55" y1="5.2" x2="270.55" y2="355.2" stroke="#767676"/><line x1="314.88" y1="5.2" x2="314.88" y2="355.2" stroke="#767676"/><line x1="359.21" y1="5.2" x2="359.21" y2="355.2" stroke="#767676"/><line x1="403.54" y1="5.2" x2="403.54" y2="355.2" stroke="#767676"/><line x1="447.87" y1="5.2" x2="447.87" y2="355.2" stroke="#767676"/><line x1="492.20" y1="5.2" x2="492.20" y2="355.2" stroke="#a8a8a8"/><line x1="48.9" y1="320.20" x2="492.2" y2="320.20" stroke="#5a5a5a"/><line x1="48.9" y1="285.20" x2="492.2" y2="285.20" stroke="#5a5a5a"/><line x1="48.9" y1="250.20" x2="492.2" y2="250.20" stroke="#5a5a5a"/><line x1="48.9" y1="215.20" x2="492.2" y2="215.20" stroke="#5a5a5a"/><line x1="48.9" y1="180.20" x2="492.2" y2="180.20" stroke="#5a5a5a"/><line x1="48.9" y1="145.20" x2="492.2" y2="145.20" stroke="#5a5a5a"/><line x1="48.9" y1="110.20" x2="492.2" y2="110.20" stroke="#5a5a5a"/><line x1="48.9" y1="75.20" x2="492.2" y2="75.20" stroke="#5a5a5a"/><line x1="48.9" y1="40.20" x2="492.2" y2="40.20" stroke="#5a5a5a"/><line x1="48.9" y1="5.20" x2="492.2" y2="5.20" stroke="#444"/>
</g>
<g fill="none" stroke="#707070" stroke-width="1.3" stroke-dasharray="1.3 2.7">
<polyline points="93.23,354.05 94.23,353.42 95.23,352.79 96.23,352.17 97.23,351.55 98.23,350.94 99.23,350.33 100.23,349.72 101.23,349.12 102.23,348.52 103.23,347.93 104.23,347.33 105.23,346.75 106.23,346.16 107.23,345.58 108.23,344.99 109.23,344.42 110.23,343.84 111.23,343.27 112.23,342.69 113.23,342.12 114.23,341.55 115.23,340.99 116.23,340.42 117.23,339.85 118.23,339.29 119.23,338.73 120.23,338.16 121.23,337.60 122.23,337.04 123.23,336.48 124.23,335.91 125.23,335.35 126.23,334.79 127.23,334.23 128.23,333.66 129.23,333.10 130.23,332.53 131.23,331.97 132.23,331.40 133.23,330.83 134.23,330.26 135.23,329.69 136.23,329.11 137.23,328.54 138.23,327.96 139.23,327.38 140.23,326.79 141.23,326.21 142.23,325.62 143.23,325.03 144.23,324.43 145.23,323.83 146.23,323.23 147.23,322.62 148.23,322.01 149.23,321.40 150.23,320.78 151.23,320.16 152.23,319.53 153.23,318.90 154.23,318.27 155.23,317.63 156.23,316.98 157.23,316.33 158.23,315.67 159.23,315.01 160.23,314.35 161.23,313.67 162.23,312.99 163.23,312.31 164.23,311.61 165.23,310.92 166.23,310.21 167.23,309.50 168.23,308.78 169.23,308.05 170.23,307.32 171.23,306.58 172.23,305.83 173.23,305.08 174.23,304.31 175.23,303.54 176.23,302.76 177.23,301.97 178.23,301.17 179.23,300.37 180.23,299.55 181.23,298.73 182.23,297.90 183.23,297.05 184.23,296.20 185.23,295.34 186.23,294.47 187.23,293.59 188.23,292.70 189.23,291.80 190.23,290.88 191.23,289.96 192.23,289.03 193.23,288.09 194.23,287.13 195.23,286.17 196.23,285.19 197.23,284.21 198.23,283.21 199.23,282.20 200.23,281.18 201.23,280.14 202.23,279.10 203.23,278.04 204.23,276.97 205.23,275.89 206.23,274.80 207.23,273.69 208.23,272.57 209.23,271.44 210.23,270.29 211.23,269.14 212.23,267.97 213.23,266.78 214.23,265.58 215.23,264.37 216.23,263.15 217.23,261.91 218.23,260.65 219.23,259.39 220.23,258.11 221.23,256.81 222.23,255.50 223.23,254.18 224.23,252.84 225.23,251.48 226.23,250.11 227.23,248.73 228.23,247.33 229.23,245.91 230.23,244.48 231.23,243.03 232.23,241.57 233.23,240.09 234.23,238.60 235.23,237.08 236.23,235.56 237.23,234.01 238.23,232.45 239.23,230.87 240.23,229.28 241.23,227.67 242.23,226.04 243.23,224.39 244.23,222.73 245.23,221.05 246.23,219.35 247.23,217.63 248.23,215.90 249.23,214.15 250.23,212.37 251.23,210.59 252.23,208.78 253.23,206.95 254.23,205.11 255.23,203.24 256.23,201.36 257.23,199.46 258.23,197.53 259.23,195.59 260.23,193.63 261.23,191.65 262.23,189.65 263.23,187.63 264.23,185.59 265.23,183.53 266.23,181.45 267.23,179.34 268.23,177.22 269.23,175.08 270.23,172.92 271.23,170.75 272.23,168.55 273.23,166.35 274.23,164.12 275.23,161.89 276.23,159.64 277.23,157.38 278.23,155.11 279.23,152.83 280.23,150.54 281.23,148.25 282.23,145.94 283.23,143.64 284.23,141.32 285.23,139.01 286.23,136.69 287.23,134.37 288.23,132.05 289.23,129.73 290.23,127.41 291.23,125.09 292.23,122.78 293.23,120.47 294.23,118.17 295.23,115.87 296.23,113.59 297.23,111.31 298.23,109.05 299.23,106.80 300.23,104.56 301.23,102.34 302.23,100.13 303.23,97.94 304.23,95.77 305.23,93.62 306.23,91.49 307.23,89.39 308.23,87.31 309.23,85.25 310.23,83.22 311.23,81.22 312.23,79.24 313.23,77.30 314.23,75.39 315.23,73.51 316.23,71.66 317.23,69.85 318.23,68.07 319.23,66.32 320.23,64.60 321.23,62.91 322.23,61.26 323.23,59.63 324.23,58.04 325.23,56.47 326.23,54.94 327.23,53.43 328.23,51.96 329.23,50.51 330.23,49.10 331.23,47.71 332.23,46.35 333.23,45.02 334.23,43.72 335.23,42.44 336.23,41.19 337.23,39.97 338.23,38.77 339.23,37.60 340.23,36.46 341.23,35.34 342.23,34.25 343.23,33.18 344.23,32.14 345.23,31.13 346.23,30.13 347.23,29.17 348.23,28.22 349.23,27.30 350.23,26.40 351.23,25.53 352.23,24.67 353.23,23.84 354.23,23.04 355.23,22.25 356.23,21.49 357.23,20.74 358.23,20.02 359.23,19.32 360.23,18.64 361.23,17.98 362.23,17.34 363.23,16.72 364.23,16.12 365.23,15.53 366.23,14.97 367.23,14.42 368.23,13.90 369.23,13.39 370.23,12.90 371.23,12.42 372.23,11.96 373.23,11.52 374.23,11.10 375.23,10.69 376.23,10.30 377.23,9.92 378.23,9.56 379.23,9.22 380.23,8.89 381.23,8.57 382.23,8.27 383.23,7.98 384.23,7.70 385.23,7.44 386.23,7.20 387.23,6.96 388.23,6.74 389.23,6.53 390.23,6.33 391.23,6.14 392.23,5.97 393.23,5.80 394.23,5.65 395.23,5.51 396.23,5.38 397.23,5.25 398.23,5.20 399.23,5.20 400.23,5.20 401.23,5.20 402.23,5.20 403.23,5.20 404.23,5.20 405.23,5.20 406.23,5.20 407.23,5.20 408.23,5.20 409.23,5.20 410.23,5.20 411.23,5.20 412.23,5.20 413.23,5.20 414.23,5.20 415.23,5.20 416.23,5.20 417.23,5.20 418.23,5.20 419.23,5.20 420.23,5.20 421.23,5.20 422.23,5.20 423.23,5.20 424.23,5.20 425.23,5.20 426.23,5.20 427.23,5.20 428.23,5.20 429.23,5.20 430.23,5.20 431.23,5.20 432.23,5.20 433.23,5.20 434.23,5.21 435.23,5.26 436.23,5.30 437.23,5.35 438.23,5.40 439.23,5.44 440.23,5.49 441.23,5.53 442.23,5.56 443.23,5.60 444.23,5.63 445.23,5.66 446.23,5.68 447.23,5.70 447.87,5.71"/>
<polyline points="150.00,355.20 151.00,355.20 152.00,355.20 153.00,355.08 154.00,354.87 155.00,354.67 156.00,354.47 157.00,354.27 158.00,354.08 159.00,353.88 160.00,353.68 161.00,353.48 162.00,353.28 163.00,353.08 164.00,352.88 165.00,352.67 166.00,352.47 167.00,352.26 168.00,352.06 169.00,351.84 170.00,351.63 171.00,351.42 172.00,351.20 173.00,350.97 174.00,350.75 175.00,350.52 176.00,350.28 177.00,350.05 178.00,349.80 179.00,349.55 180.00,349.30 181.00,349.04 182.00,348.78 183.00,348.51 184.00,348.23 185.00,347.95 186.00,347.66 187.00,347.37 188.00,347.07 189.00,346.76 190.00,346.44 191.00,346.11 192.00,345.78 193.00,345.44 194.00,345.09 195.00,344.73 196.00,344.36 197.00,343.99 198.00,343.60 199.00,343.20 200.00,342.79 201.00,342.38 202.00,341.95 203.00,341.51 204.00,341.06 205.00,340.60 206.00,340.13 207.00,339.64 208.00,339.15 209.00,338.64 210.00,338.12 211.00,337.59 212.00,337.04 213.00,336.48 214.00,335.91 215.00,335.33 216.00,334.73 217.00,334.12 218.00,333.50 219.00,332.87 220.00,332.21 221.00,331.55 222.00,330.87 223.00,330.18 224.00,329.48 225.00,328.75 226.00,328.02 227.00,327.27 228.00,326.51 229.00,325.73 230.00,324.93 231.00,324.13 232.00,323.30 233.00,322.47 234.00,321.62 235.00,320.76 236.00,319.89 237.00,319.01 238.00,318.11 239.00,317.20 240.00,316.28 241.00,315.35 242.00,314.41 243.00,313.46 244.00,312.50 245.00,311.53 246.00,310.55 247.00,309.56 248.00,308.56 249.00,307.56 250.00,306.54 251.00,305.52 252.00,304.49 253.00,303.45 254.00,302.41 255.00,301.36 256.00,300.30 257.00,299.24 258.00,298.17 259.00,297.10 260.00,296.02 261.00,294.94 262.00,293.85 263.00,292.76 264.00,291.66 265.00,290.57 266.00,289.46 267.00,288.36 268.00,287.25 269.00,286.14 270.00,285.03 271.00,283.92 272.00,282.80 273.00,281.69 274.00,280.57 275.00,279.45 276.00,278.33 277.00,277.21 278.00,276.09 279.00,274.97 280.00,273.84 281.00,272.72 282.00,271.60 283.00,270.47 284.00,269.35 285.00,268.22 286.00,267.10 287.00,265.97 288.00,264.85 289.00,263.72 290.00,262.60 291.00,261.48 292.00,260.36 293.00,259.23 294.00,258.11 295.00,256.99 296.00,255.87 297.00,254.75 298.00,253.64 299.00,252.52 300.00,251.40 301.00,250.29 302.00,249.18 303.00,248.07 304.00,246.96 305.00,245.85 306.00,244.75 307.00,243.65 308.00,242.54 309.00,241.45 310.00,240.35 311.00,239.26 312.00,238.17 313.00,237.08 314.00,235.99 315.00,234.91 316.00,233.83 317.00,232.75 318.00,231.68 319.00,230.61 320.00,229.54 321.00,228.47 322.00,227.41 323.00,226.36 324.00,225.30 325.00,224.25 326.00,223.21 327.00,222.17 328.00,221.13 329.00,220.10 330.00,219.07 331.00,218.04 332.00,217.02 333.00,216.01 334.00,214.99 335.00,213.99 336.00,212.99 337.00,211.99 338.00,211.00 339.00,210.01 340.00,209.03 341.00,208.06 342.00,207.09 343.00,206.12 344.00,205.17 345.00,204.21 346.00,203.27 347.00,202.32 348.00,201.39 349.00,200.46 350.00,199.54 351.00,198.62 352.00,197.71 353.00,196.81 354.00,195.91 355.00,195.02 356.00,194.14 357.00,193.26 358.00,192.40 359.00,191.53 360.00,190.68 361.00,189.83 362.00,188.99 363.00,188.16 364.00,187.34 365.00,186.52 366.00,185.71 367.00,184.91 368.00,184.12 369.00,183.33 370.00,182.55 371.00,181.79 372.00,181.03 373.00,180.28 374.00,179.53 375.00,178.80 376.00,178.07 377.00,177.36 378.00,176.65 379.00,175.95 380.00,175.26 381.00,174.58 382.00,173.92 383.00,173.25 384.00,172.60 385.00,171.96 386.00,171.33 387.00,170.71 388.00,170.10 389.00,169.50 390.00,168.91 391.00,168.33 392.00,167.76 393.00,167.20 394.00,166.65 395.00,166.11 396.00,165.58 397.00,165.06 398.00,164.56 399.00,164.06 400.00,163.58 401.00,163.11 402.00,162.65 403.00,162.20 404.00,161.76 405.00,161.33 406.00,160.92 407.00,160.52 408.00,160.13 409.00,159.75 410.00,159.38 411.00,159.03 412.00,158.69 413.00,158.36 414.00,158.04 415.00,157.74 416.00,157.45 417.00,157.17 418.00,156.90 419.00,156.65 420.00,156.41 421.00,156.19 422.00,155.97 423.00,155.77 424.00,155.59 425.00,155.42 426.00,155.26 427.00,155.12 428.00,154.99 429.00,154.87 430.00,154.77 431.00,154.68 432.00,154.61 433.00,154.55 434.00,154.50 435.00,154.48 436.00,154.46 437.00,154.46 438.00,154.48 439.00,154.51 440.00,154.55 441.00,154.61 442.00,154.69 443.00,154.78 444.00,154.89 445.00,155.01 446.00,155.15 447.00,155.30 447.87,155.45"/>
</g>
<g fill="none" stroke="#2a2a36" stroke-width="1.1">
<polyline points="137.56,353.98 138.56,353.92 139.56,353.87 140.56,353.81 141.56,353.75 142.56,353.69 143.56,353.63 144.56,353.57 145.56,353.50 146.56,353.43 147.56,353.36 148.56,353.29 149.56,353.22 150.56,353.14 151.56,353.06 152.56,352.98 153.56,352.90 154.56,352.81 155.56,352.72 156.56,352.63 157.56,352.54 158.56,352.45 159.56,352.35 160.56,352.25 161.56,352.15 162.56,352.04 163.56,351.93 164.56,351.82 165.56,351.71 166.56,351.59 167.56,351.48 168.56,351.35 169.56,351.23 170.56,351.10 171.56,350.97 172.56,350.84 173.56,350.70 174.56,350.56 175.56,350.42 176.56,350.27 177.56,350.12 178.56,349.97 179.56,349.81 180.56,349.65 181.56,349.49 182.56,349.32 183.56,349.15 184.56,348.97 185.56,348.80 186.56,348.61 187.56,348.43 188.56,348.24 189.56,348.05 190.56,347.85 191.56,347.65 192.56,347.44 193.56,347.23 194.56,347.02 195.56,346.80 196.56,346.58 197.56,346.35 198.56,346.12 199.56,345.89 200.56,345.65 201.56,345.40 202.56,345.16 203.56,344.90 204.56,344.65 205.56,344.38 206.56,344.12 207.56,343.85 208.56,343.57 209.56,343.29 210.56,343.00 211.56,342.71 212.56,342.41 213.56,342.11 214.56,341.81 215.56,341.49 216.56,341.18 217.56,340.86 218.56,340.53 219.56,340.19 220.56,339.86 221.56,339.51 222.56,339.16 223.56,338.81 224.56,338.45 225.56,338.08 226.56,337.71 227.56,337.33 228.56,336.95 229.56,336.56 230.56,336.16 231.56,335.76 232.56,335.36 233.56,334.94 234.56,334.52 235.56,334.10 236.56,333.67 237.56,333.23 238.56,332.78 239.56,332.33 240.56,331.88 241.56,331.41 242.56,330.94 243.56,330.47 244.56,329.99 245.56,329.50 246.56,329.00 247.56,328.50 248.56,327.99 249.56,327.47 250.56,326.95 251.56,326.42 252.56,325.88 253.56,325.34 254.56,324.79 255.56,324.23 256.56,323.67 257.56,323.10 258.56,322.52 259.56,321.93 260.56,321.34 261.56,320.74 262.56,320.13 263.56,319.52 264.56,318.90 265.56,318.27 266.56,317.63 267.56,316.99 268.56,316.34 269.56,315.68 270.56,315.02 271.56,314.34 272.56,313.66 273.56,312.97 274.56,312.28 275.56,311.57 276.56,310.86 277.56,310.15 278.56,309.42 279.56,308.69 280.56,307.94 281.56,307.20 282.56,306.44 283.56,305.68 284.56,304.90 285.56,304.12 286.56,303.34 287.56,302.54 288.56,301.74 289.56,300.93 290.56,300.11 291.56,299.28 292.56,298.45 293.56,297.61 294.56,296.76 295.56,295.90 296.56,295.04 297.56,294.16 298.56,293.28 299.56,292.40 300.56,291.50 301.56,290.60 302.56,289.68 303.56,288.76 304.56,287.84 305.56,286.90 306.56,285.96 307.56,285.01 308.56,284.05 309.56,283.09 310.56,282.12 311.56,281.14 312.56,280.15 313.56,279.15 314.56,278.15 315.56,277.14 316.56,276.12 317.56,275.09 318.56,274.06 319.56,273.02 320.56,271.97 321.56,270.92 322.56,269.86 323.56,268.79 324.56,267.71 325.56,266.63 326.56,265.54 327.56,264.44 328.56,263.33 329.56,262.22 330.56,261.10 331.56,259.98 332.56,258.84 333.56,257.70 334.56,256.56 335.56,255.40 336.56,254.25 337.56,253.08 338.56,251.91 339.56,250.73 340.56,249.54 341.56,248.35 342.56,247.15 343.56,245.95 344.56,244.74 345.56,243.52 346.56,242.30 347.56,241.07 348.56,239.84 349.56,238.60 350.56,237.36 351.56,236.11 352.56,234.85 353.56,233.59 354.56,232.32 355.56,231.05 356.56,229.77 357.56,228.49 358.56,227.20 359.56,225.91 360.56,224.61 361.56,223.31 362.56,222.01 363.56,220.70 364.56,219.38 365.56,218.06 366.56,216.74 367.56,215.41 368.56,214.08 369.56,212.74 370.56,211.41 371.56,210.06 372.56,208.72 373.56,207.37 374.56,206.01 375.56,204.66 376.56,203.30 377.56,201.94 378.56,200.57 379.56,199.20 380.56,197.83 381.56,196.46 382.56,195.08 383.56,193.71 384.56,192.33 385.56,190.94 386.56,189.56 387.56,188.17 388.56,186.79 389.56,185.40 390.56,184.01 391.56,182.62 392.56,181.22 393.56,179.83 394.56,178.44 395.56,177.04 396.56,175.64 397.56,174.25 398.56,172.85 399.56,171.45 400.56,170.06 401.56,168.66 402.56,167.26 403.56,165.87 404.56,164.47 405.56,163.08 406.56,161.68 407.56,160.29 408.56,158.89 409.56,157.50 410.56,156.11 411.56,154.72 412.56,153.33 413.56,151.95 414.56,150.56 415.56,149.18 416.56,147.80 417.56,146.42 418.56,145.04 419.56,143.67 420.56,142.30 421.56,140.93 422.56,139.57 423.56,138.20 424.56,136.85 425.56,135.49 426.56,134.14 427.56,132.79 428.56,131.44 429.56,130.10 430.56,128.76 431.56,127.43 432.56,126.10 433.56,124.77 434.56,123.45 435.56,122.14 436.56,120.82 437.56,119.52 438.56,118.22 439.56,116.92 440.56,115.63 441.56,114.34 442.56,113.06 443.56,111.78 444.56,110.51 445.56,109.25 446.56,107.99 447.56,106.74 448.56,105.49 449.56,104.25 450.56,103.02 451.56,101.79 452.56,100.57 453.56,99.35 454.56,98.14 455.56,96.94 456.56,95.75 457.56,94.56 458.56,93.38 459.56,92.21 460.56,91.04 461.56,89.88 462.56,88.73 463.56,87.59 464.56,86.45 465.56,85.32 466.56,84.20 467.56,83.09 468.56,81.98 469.56,80.88 470.56,79.80 471.56,78.71 472.56,77.64 473.56,76.58 473.60,76.53 473.6,256.32"/>
<polyline points="137.56,355.03 138.56,355.02 139.56,355.01 140.56,355.00 141.56,354.99 142.56,354.98 143.56,354.97 144.56,354.96 145.56,354.95 146.56,354.94 147.56,354.93 148.56,354.92 149.56,354.91 150.56,354.90 151.56,354.88 152.56,354.87 153.56,354.86 154.56,354.84 155.56,354.83 156.56,354.81 157.56,354.80 158.56,354.78 159.56,354.76 160.56,354.75 161.56,354.73 162.56,354.71 163.56,354.69 164.56,354.67 165.56,354.65 166.56,354.63 167.56,354.61 168.56,354.59 169.56,354.57 170.56,354.55 171.56,354.53 172.56,354.50 173.56,354.48 174.56,354.45 175.56,354.43 176.56,354.40 177.56,354.38 178.56,354.35 179.56,354.32 180.56,354.29 181.56,354.26 182.56,354.23 183.56,354.20 184.56,354.17 185.56,354.14 186.56,354.11 187.56,354.07 188.56,354.04 189.56,354.00 190.56,353.97 191.56,353.93 192.56,353.89 193.56,353.85 194.56,353.81 195.56,353.77 196.56,353.73 197.56,353.69 198.56,353.65 199.56,353.60 200.56,353.56 201.56,353.51 202.56,353.47 203.56,353.42 204.56,353.37 205.56,353.32 206.56,353.27 207.56,353.22 208.56,353.17 209.56,353.11 210.56,353.06 211.56,353.00 212.56,352.95 213.56,352.89 214.56,352.83 215.56,352.77 216.56,352.71 217.56,352.65 218.56,352.58 219.56,352.52 220.56,352.45 221.56,352.39 222.56,352.32 223.56,352.25 224.56,352.18 225.56,352.10 226.56,352.03 227.56,351.96 228.56,351.88 229.56,351.80 230.56,351.73 231.56,351.65 232.56,351.56 233.56,351.48 234.56,351.40 235.56,351.31 236.56,351.22 237.56,351.14 238.56,351.05 239.56,350.96 240.56,350.86 241.56,350.77 242.56,350.67 243.56,350.58 244.56,350.48 245.56,350.38 246.56,350.27 247.56,350.17 248.56,350.07 249.56,349.96 250.56,349.85 251.56,349.74 252.56,349.63 253.56,349.52 254.56,349.40 255.56,349.28 256.56,349.16 257.56,349.04 258.56,348.92 259.56,348.80 260.56,348.67 261.56,348.54 262.56,348.42 263.56,348.28 264.56,348.15 265.56,348.02 266.56,347.88 267.56,347.74 268.56,347.60 269.56,347.46 270.56,347.31 271.56,347.16 272.56,347.02 273.56,346.87 274.56,346.71 275.56,346.56 276.56,346.40 277.56,346.24 278.56,346.08 279.56,345.92 280.56,345.75 281.56,345.58 282.56,345.41 283.56,345.24 284.56,345.07 285.56,344.89 286.56,344.71 287.56,344.53 288.56,344.35 289.56,344.16 290.56,343.98 291.56,343.79 292.56,343.59 293.56,343.40 294.56,343.20 295.56,343.00 296.56,342.80 297.56,342.60 298.56,342.39 299.56,342.18 300.56,341.97 301.56,341.75 302.56,341.54 303.56,341.32 304.56,341.10 305.56,340.87 306.56,340.64 307.56,340.41 308.56,340.18 309.56,339.95 310.56,339.71 311.56,339.47 312.56,339.23 313.56,338.98 314.56,338.73 315.56,338.48 316.56,338.23 317.56,337.97 318.56,337.71 319.56,337.45 320.56,337.18 321.56,336.91 322.56,336.64 323.56,336.37 324.56,336.09 325.56,335.81 326.56,335.53 327.56,335.25 328.56,334.96 329.56,334.67 330.56,334.37 331.56,334.08 332.56,333.78 333.56,333.47 334.56,333.17 335.56,332.86 336.56,332.54 337.56,332.23 338.56,331.91 339.56,331.59 340.56,331.26 341.56,330.94 342.56,330.61 343.56,330.27 344.56,329.93 345.56,329.59 346.56,329.25 347.56,328.90 348.56,328.55 349.56,328.20 350.56,327.84 351.56,327.48 352.56,327.12 353.56,326.75 354.56,326.38 355.56,326.01 356.56,325.63 357.56,325.25 358.56,324.87 359.56,324.48 360.56,324.09 361.56,323.69 362.56,323.30 363.56,322.90 364.56,322.49 365.56,322.08 366.56,321.67 367.56,321.26 368.56,320.84 369.56,320.42 370.56,319.99 371.56,319.56 372.56,319.13 373.56,318.70 374.56,318.26 375.56,317.81 376.56,317.37 377.56,316.92 378.56,316.46 379.56,316.01 380.56,315.54 381.56,315.08 382.56,314.61 383.56,314.14 384.56,313.66 385.56,313.18 386.56,312.70 387.56,312.21 388.56,311.72 389.56,311.23 390.56,310.73 391.56,310.23 392.56,309.73 393.56,309.22 394.56,308.70 395.56,308.19 396.56,307.67 397.56,307.14 398.56,306.62 399.56,306.08 400.56,305.55 401.56,305.01 402.56,304.47 403.56,303.92 404.56,303.37 405.56,302.82 406.56,302.26 407.56,301.70 408.56,301.13 409.56,300.56 410.56,299.99 411.56,299.41 412.56,298.83 413.56,298.25 414.56,297.66 415.56,297.07 416.56,296.47 417.56,295.87 418.56,295.27 419.56,294.66 420.56,294.05 421.56,293.44 422.56,292.82 423.56,292.19 424.56,291.57 425.56,290.94 426.56,290.30 427.56,289.67 428.56,289.02 429.56,288.38 430.56,287.73 431.56,287.08 432.56,286.42 433.56,285.76 434.56,285.10 435.56,284.43 436.56,283.76 437.56,283.08 438.56,282.40 439.56,281.72 440.56,281.03 441.56,280.34 442.56,279.65 443.56,278.95 444.56,278.25 445.56,277.54 446.56,276.84 447.56,276.12 448.56,275.41 449.56,274.69 450.56,273.96 451.56,273.24 452.56,272.51 453.56,271.77 454.56,271.03 455.56,270.29 456.56,269.55 457.56,268.80 458.56,268.05 459.56,267.29 460.56,266.53 461.56,265.77 462.56,265.00 463.56,264.24 464.56,263.46 465.56,262.69 466.56,261.91 467.56,261.12 468.56,260.34 469.56,259.55 470.56,258.75 471.56,257.96 472.56,257.16 473.56,256.35 473.60,256.32"/>
</g>
<g fill="none" stroke="#2e2e2e" stroke-width="1.3">
<line x1="49.3" y1="5.0" x2="49.3" y2="359.8"/>
<line x1="44.4" y1="355.5" x2="492.8" y2="355.5"/>
<line x1="48.90" y1="355.2" x2="48.90" y2="359.6"/><line x1="93.23" y1="355.2" x2="93.23" y2="359.6"/><line x1="137.56" y1="355.2" x2="137.56" y2="359.6"/><line x1="181.89" y1="355.2" x2="181.89" y2="359.6"/><line x1="226.22" y1="355.2" x2="226.22" y2="359.6"/><line x1="270.55" y1="355.2" x2="270.55" y2="359.6"/><line x1="314.88" y1="355.2" x2="314.88" y2="359.6"/><line x1="359.21" y1="355.2" x2="359.21" y2="359.6"/><line x1="403.54" y1="355.2" x2="403.54" y2="359.6"/><line x1="447.87" y1="355.2" x2="447.87" y2="359.6"/><line x1="492.20" y1="355.2" x2="492.20" y2="359.6"/><line x1="44.4" y1="355.20" x2="48.9" y2="355.20"/><line x1="44.4" y1="320.20" x2="48.9" y2="320.20"/><line x1="44.4" y1="285.20" x2="48.9" y2="285.20"/><line x1="44.4" y1="250.20" x2="48.9" y2="250.20"/><line x1="44.4" y1="215.20" x2="48.9" y2="215.20"/><line x1="44.4" y1="180.20" x2="48.9" y2="180.20"/><line x1="44.4" y1="145.20" x2="48.9" y2="145.20"/><line x1="44.4" y1="110.20" x2="48.9" y2="110.20"/><line x1="44.4" y1="75.20" x2="48.9" y2="75.20"/><line x1="44.4" y1="40.20" x2="48.9" y2="40.20"/><line x1="44.4" y1="5.20" x2="48.9" y2="5.20"/>
</g>
<polyline points="48.90,355.20 93.23,355.20 94.23,355.20 95.23,355.20 96.23,355.20 97.23,355.20 98.23,355.20 99.23,355.20 100.23,355.20 101.23,355.19 102.23,355.19 103.23,355.18 104.23,355.17 105.23,355.16 106.23,355.15 107.23,355.14 108.23,355.12 109.23,355.09 110.23,355.07 111.23,355.04 112.23,355.01 113.23,354.97 114.23,354.93 115.23,354.89 116.23,354.84 117.23,354.78 118.23,354.72 119.23,354.66 120.23,354.59 121.23,354.51 122.23,354.43 123.23,354.35 124.23,354.25 125.23,354.16 126.23,354.05 127.23,353.94 128.23,353.82 129.23,353.70 130.23,353.57 131.23,353.43 132.23,353.28 133.23,353.13 134.23,352.97 135.23,352.80 136.23,352.62 137.23,352.44 138.23,352.25 139.23,352.05 140.23,351.84 141.23,351.62 142.23,351.39 143.23,351.16 144.23,350.92 145.23,350.66 146.23,350.40 147.23,350.13 148.23,349.85 149.23,349.56 150.23,349.26 151.23,348.95 152.23,348.63 153.23,348.30 154.23,347.96 155.23,347.61 156.23,347.25 157.23,346.88 158.23,346.49 159.23,346.10 160.23,345.70 161.23,345.29 162.23,344.86 163.23,344.42 164.23,343.98 165.23,343.52 166.23,343.05 167.23,342.57 168.23,342.08 169.23,341.57 170.23,341.06 171.23,340.53 172.23,339.99 173.23,339.44 174.23,338.88 175.23,338.30 176.23,337.71 177.23,337.11 178.23,336.50 179.23,335.88 180.23,335.24 181.23,334.60 182.23,333.94 183.23,333.26 184.23,332.58 185.23,331.88 186.23,331.17 187.23,330.45 188.23,329.71 189.23,328.96 190.23,328.20 191.23,327.43 192.23,326.64 193.23,325.84 194.23,325.03 195.23,324.21 196.23,323.37 197.23,322.52 198.23,321.66 199.23,320.79 200.23,319.90 201.23,319.00 202.23,318.09 203.23,317.16 204.23,316.22 205.23,315.27 206.23,314.31 207.23,313.33 208.23,312.34 209.23,311.34 210.23,310.33 211.23,309.30 212.23,308.26 213.23,307.21 214.23,306.15 215.23,305.08 216.23,303.99 217.23,302.89 218.23,301.78 219.23,300.65 220.23,299.52 221.23,298.37 222.23,297.21 223.23,296.04 224.23,294.86 225.23,293.66 226.23,292.46 227.23,291.24 228.23,290.01 229.23,288.77 230.23,287.52 231.23,286.26 232.23,284.99 233.23,283.70 234.23,282.41 235.23,281.11 236.23,279.79 237.23,278.47 238.23,277.13 239.23,275.78 240.23,274.43 241.23,273.06 242.23,271.69 243.23,270.30 244.23,268.91 245.23,267.51 246.23,266.09 247.23,264.67 248.23,263.24 249.23,261.80 250.23,260.35 251.23,258.90 252.23,257.43 253.23,255.96 254.23,254.48 255.23,252.99 256.23,251.50 257.23,249.99 258.23,248.48 259.23,246.96 260.23,245.44 261.23,243.91 262.23,242.37 263.23,240.83 264.23,239.28 265.23,237.72 266.23,236.16 267.23,234.59 268.23,233.01 269.23,231.44 270.23,229.85 271.23,228.26 272.23,226.67 273.23,225.07 274.23,223.47 275.23,221.86 276.23,220.25 277.23,218.64 278.23,217.02 279.23,215.40 280.23,213.77 281.23,212.15 282.23,210.52 283.23,208.88 284.23,207.25 285.23,205.61 286.23,203.97 287.23,202.33 288.23,200.69 289.23,199.05 290.23,197.40 291.23,195.76 292.23,194.11 293.23,192.46 294.23,190.82 295.23,189.17 296.23,187.52 297.23,185.88 298.23,184.23 299.23,182.58 300.23,180.94 301.23,179.30 302.23,177.66 303.23,176.01 304.23,174.38 305.23,172.74 306.23,171.10 307.23,169.47 308.23,167.84 309.23,166.22 310.23,164.59 311.23,162.97 312.23,161.35 313.23,159.74 314.23,158.13 315.23,156.52 316.23,154.92 317.23,153.32 318.23,151.73 319.23,150.14 320.23,148.56 321.23,146.98 322.23,145.40 323.23,143.83 324.23,142.27 325.23,140.71 326.23,139.16 327.23,137.61 328.23,136.08 329.23,134.54 330.23,133.02 331.23,131.50 332.23,129.98 333.23,128.48 334.23,126.98 335.23,125.48 336.23,124.00 337.23,122.52 338.23,121.05 339.23,119.59 340.23,118.14 341.23,116.69 342.23,115.26 343.23,113.83 344.23,112.41 345.23,111.00 346.23,109.59 347.23,108.20 348.23,106.81 349.23,105.44 350.23,104.07 351.23,102.71 352.23,101.37 353.23,100.03 354.23,98.70 355.23,97.38 356.23,96.07 357.23,94.77 358.23,93.48 359.23,92.20 360.23,90.93 361.23,89.67 362.23,88.42 363.23,87.19 364.23,85.96 365.23,84.74 366.23,83.53 367.23,82.34 368.23,81.15 369.23,79.97 370.23,78.81 371.23,77.66 372.23,76.51 373.23,75.38 374.23,74.26 375.23,73.15 376.23,72.05 377.23,70.96 378.23,69.88 379.23,68.82 380.23,67.76 381.23,66.72 382.23,65.69 383.23,64.66 384.23,63.65 385.23,62.65 386.23,61.67 387.23,60.69 388.23,59.72 389.23,58.77 390.23,57.82 391.23,56.89 392.23,55.97 393.23,55.06 394.23,54.16 395.23,53.27 396.23,52.39 397.23,51.52 398.23,50.67 399.23,49.82 400.23,48.99 401.23,48.17 402.23,47.35 403.23,46.55 404.23,45.76 405.23,44.98 406.23,44.21 407.23,43.46 408.23,42.71 409.23,41.97 410.23,41.24 411.23,40.53 412.23,39.82 413.23,39.12 414.23,38.44 415.23,37.76 416.23,37.10 417.23,36.44 418.23,35.79 419.23,35.16 420.23,34.53 421.23,33.92 422.23,33.31 423.23,32.71 424.23,32.13 425.23,31.55 426.23,30.98 427.23,30.42 428.23,29.87 429.23,29.33 430.23,28.80 431.23,28.28 432.23,27.76 433.23,27.26 434.23,26.76 435.23,26.27 436.23,25.80 437.23,25.33 438.23,24.86 439.23,24.41 440.23,23.96 441.23,23.53 442.23,23.10 443.23,22.68 444.23,22.26 445.23,21.86 446.23,21.46 447.23,21.07 447.87,20.82" fill="none" stroke="#1c30d4" stroke-width="2"/>
<polyline points="48.90,355.20 138.20,355.20 138.20,341.00 199.00,341.00 199.00,329.00 201.00,329.00 201.00,307.00 210.50,307.00 210.50,295.50 224.60,295.50 224.60,282.50 251.00,282.50 251.00,262.70 258.80,262.70 258.80,234.50 263.00,234.50 263.00,196.30 300.00,196.30 300.00,148.40 346.60,148.40 346.60,76.60 447.90,76.60" fill="none" stroke="#1c30d4" stroke-width="2"/>
<polyline points="137.56,354.60 138.56,354.57 139.56,354.54 140.56,354.51 141.56,354.48 142.56,354.45 143.56,354.41 144.56,354.38 145.56,354.34 146.56,354.31 147.56,354.27 148.56,354.23 149.56,354.19 150.56,354.15 151.56,354.11 152.56,354.06 153.56,354.02 154.56,353.97 155.56,353.92 156.56,353.88 157.56,353.83 158.56,353.77 159.56,353.72 160.56,353.67 161.56,353.61 162.56,353.55 163.56,353.49 164.56,353.43 165.56,353.37 166.56,353.31 167.56,353.24 168.56,353.18 169.56,353.11 170.56,353.04 171.56,352.97 172.56,352.89 173.56,352.82 174.56,352.74 175.56,352.66 176.56,352.58 177.56,352.49 178.56,352.41 179.56,352.32 180.56,352.23 181.56,352.14 182.56,352.05 183.56,351.95 184.56,351.86 185.56,351.76 186.56,351.66 187.56,351.55 188.56,351.45 189.56,351.34 190.56,351.23 191.56,351.12 192.56,351.00 193.56,350.88 194.56,350.76 195.56,350.64 196.56,350.52 197.56,350.39 198.56,350.26 199.56,350.13 200.56,349.99 201.56,349.85 202.56,349.71 203.56,349.57 204.56,349.43 205.56,349.28 206.56,349.13 207.56,348.97 208.56,348.82 209.56,348.66 210.56,348.49 211.56,348.33 212.56,348.16 213.56,347.99 214.56,347.81 215.56,347.64 216.56,347.45 217.56,347.27 218.56,347.08 219.56,346.89 220.56,346.70 221.56,346.50 222.56,346.30 223.56,346.10 224.56,345.89 225.56,345.68 226.56,345.47 227.56,345.25 228.56,345.03 229.56,344.81 230.56,344.58 231.56,344.35 232.56,344.11 233.56,343.88 234.56,343.63 235.56,343.39 236.56,343.14 237.56,342.89 238.56,342.63 239.56,342.37 240.56,342.10 241.56,341.83 242.56,341.56 243.56,341.28 244.56,341.00 245.56,340.72 246.56,340.43 247.56,340.14 248.56,339.84 249.56,339.54 250.56,339.23 251.56,338.92 252.56,338.61 253.56,338.29 254.56,337.97 255.56,337.64 256.56,337.31 257.56,336.97 258.56,336.63 259.56,336.29 260.56,335.94 261.56,335.58 262.56,335.22 263.56,334.86 264.56,334.49 265.56,334.12 266.56,333.74 267.56,333.36 268.56,332.98 269.56,332.58 270.56,332.19 271.56,331.79 272.56,331.38 273.56,330.97 274.56,330.55 275.56,330.13 276.56,329.71 277.56,329.28 278.56,328.84 279.56,328.40 280.56,327.96 281.56,327.51 282.56,327.05 283.56,326.59 284.56,326.12 285.56,325.65 286.56,325.17 287.56,324.69 288.56,324.20 289.56,323.71 290.56,323.21 291.56,322.71 292.56,322.20 293.56,321.69 294.56,321.17 295.56,320.64 296.56,320.11 297.56,319.58 298.56,319.04 299.56,318.49 300.56,317.94 301.56,317.38 302.56,316.82 303.56,316.25 304.56,315.68 305.56,315.10 306.56,314.51 307.56,313.92 308.56,313.32 309.56,312.72 310.56,312.11 311.56,311.50 312.56,310.88 313.56,310.25 314.56,309.62 315.56,308.99 316.56,308.34 317.56,307.70 318.56,307.04 319.56,306.38 320.56,305.72 321.56,305.05 322.56,304.37 323.56,303.69 324.56,303.00 325.56,302.30 326.56,301.60 327.56,300.90 328.56,300.19 329.56,299.47 330.56,298.74 331.56,298.02 332.56,297.28 333.56,296.54 334.56,295.79 335.56,295.04 336.56,294.28 337.56,293.52 338.56,292.75 339.56,291.97 340.56,291.19 341.56,290.41 342.56,289.61 343.56,288.81 344.56,288.01 345.56,287.20 346.56,286.38 347.56,285.56 348.56,284.73 349.56,283.90 350.56,283.06 351.56,282.22 352.56,281.37 353.56,280.51 354.56,279.65 355.56,278.78 356.56,277.91 357.56,277.03 358.56,276.15 359.56,275.26 360.56,274.37 361.56,273.46 362.56,272.56 363.56,271.65 364.56,270.73 365.56,269.81 366.56,268.88 367.56,267.95 368.56,267.01 369.56,266.07 370.56,265.12 371.56,264.17 372.56,263.21 373.56,262.24 374.56,261.27 375.56,260.30 376.56,259.32 377.56,258.33 378.56,257.34 379.56,256.35 380.56,255.35 381.56,254.35 382.56,253.34 383.56,252.32 384.56,251.30 385.56,250.28 386.56,249.25 387.56,248.22 388.56,247.18 389.56,246.14 390.56,245.09 391.56,244.04 392.56,242.99 393.56,241.93 394.56,240.86 395.56,239.80 396.56,238.72 397.56,237.65 398.56,236.57 399.56,235.48 400.56,234.39 401.56,233.30 402.56,232.20 403.56,231.10 404.56,230.00 405.56,228.89 406.56,227.78 407.56,226.66 408.56,225.54 409.56,224.42 410.56,223.30 411.56,222.17 412.56,221.04 413.56,219.90 414.56,218.76 415.56,217.62 416.56,216.48 417.56,215.33 418.56,214.18 419.56,213.02 420.56,211.87 421.56,210.71 422.56,209.55 423.56,208.38 424.56,207.22 425.56,206.05 426.56,204.88 427.56,203.70 428.56,202.53 429.56,201.35 430.56,200.17 431.56,198.99 432.56,197.81 433.56,196.62 434.56,195.43 435.56,194.24 436.56,193.05 437.56,191.86 438.56,190.67 439.56,189.47 440.56,188.28 441.56,187.08 442.56,185.88 443.56,184.68 444.56,183.48 445.56,182.28 446.56,181.08 447.56,179.88 448.56,178.68 449.56,177.47 450.56,176.27 451.56,175.07 452.56,173.86 453.56,172.66 454.56,171.45 455.56,170.25 456.56,169.04 457.56,167.84 458.56,166.63 459.56,165.43 460.56,164.23 461.56,163.02 462.56,161.82 463.56,160.62 464.56,159.42 465.56,158.22 466.56,157.02 467.56,155.82 468.56,154.63 469.56,153.43 470.56,152.24 471.56,151.04 472.56,149.85 473.56,148.66 473.60,148.61" fill="none" stroke="#cf1630" stroke-width="1.8"/>
<polyline points="137.60,355.20 258.60,355.20 258.60,340.40 288.90,340.40 288.90,322.70 299.80,322.70 299.80,304.80 346.60,304.80 346.60,276.00 348.40,276.00 348.40,241.00 439.60,241.00 439.60,182.20 447.40,182.20 447.40,123.00 473.60,123.00" fill="none" stroke="#e41b1b" stroke-width="2"/>
<line x1="49" y1="355.5" x2="473.6" y2="355.5" stroke="#2e2e2e" stroke-width="1.1" stroke-opacity="0.55"/>
<g font-family="Liberation Sans, sans-serif" font-size="12.2" fill="#000" stroke="#000" stroke-width="0.32">
<text x="41.5" y="359.55" text-anchor="end">0</text><text x="41.5" y="324.55" text-anchor="end">0.10</text><text x="41.5" y="289.55" text-anchor="end">0.20</text><text x="41.5" y="254.55" text-anchor="end">0.35</text><text x="41.5" y="219.55" text-anchor="end">0.40</text><text x="41.5" y="184.55" text-anchor="end">0.50</text><text x="41.5" y="149.55" text-anchor="end">0.60</text><text x="41.5" y="114.55" text-anchor="end">0.70</text><text x="41.5" y="79.55" text-anchor="end">0.80</text><text x="41.5" y="44.55" text-anchor="end">0.90</text><text x="41.5" y="9.55" text-anchor="end">1.0</text>
<text x="49.40" y="373.8" text-anchor="middle">0</text><text x="93.73" y="373.8" text-anchor="middle">5</text><text x="138.06" y="373.8" text-anchor="middle">10</text><text x="182.39" y="373.8" text-anchor="middle">15</text><text x="226.72" y="373.8" text-anchor="middle">20</text><text x="271.05" y="373.8" text-anchor="middle">25</text><text x="315.38" y="373.8" text-anchor="middle">30</text><text x="359.71" y="373.8" text-anchor="middle">35</text><text x="404.04" y="373.8" text-anchor="middle">40</text><text x="448.37" y="373.8" text-anchor="middle">45</text><text x="492.70" y="373.8" text-anchor="middle">50</text>
</g>
<g font-family="Liberation Sans, sans-serif" font-size="12" fill="#000" stroke="#000" stroke-width="0.25">
<text x="270.5" y="388.2" text-anchor="middle">Age in Years</text>
<text transform="translate(11.2,178.4) rotate(-90)" text-anchor="middle">Cumulative Probability of SCC</text>
</g>
<text x="457" y="28.2" font-family="Liberation Sans, sans-serif" font-size="18" fill="#2233cc" stroke="#2233cc" stroke-width="0.2">SLH</text>
<rect x="483" y="136.5" width="37" height="15.5" fill="#fff"/>
<text x="483.4" y="150.5" font-family="Liberation Sans, sans-serif" font-size="18" fill="#d81030" stroke="#d81030" stroke-width="0.3">NAS</text>
</svg></body></html>
